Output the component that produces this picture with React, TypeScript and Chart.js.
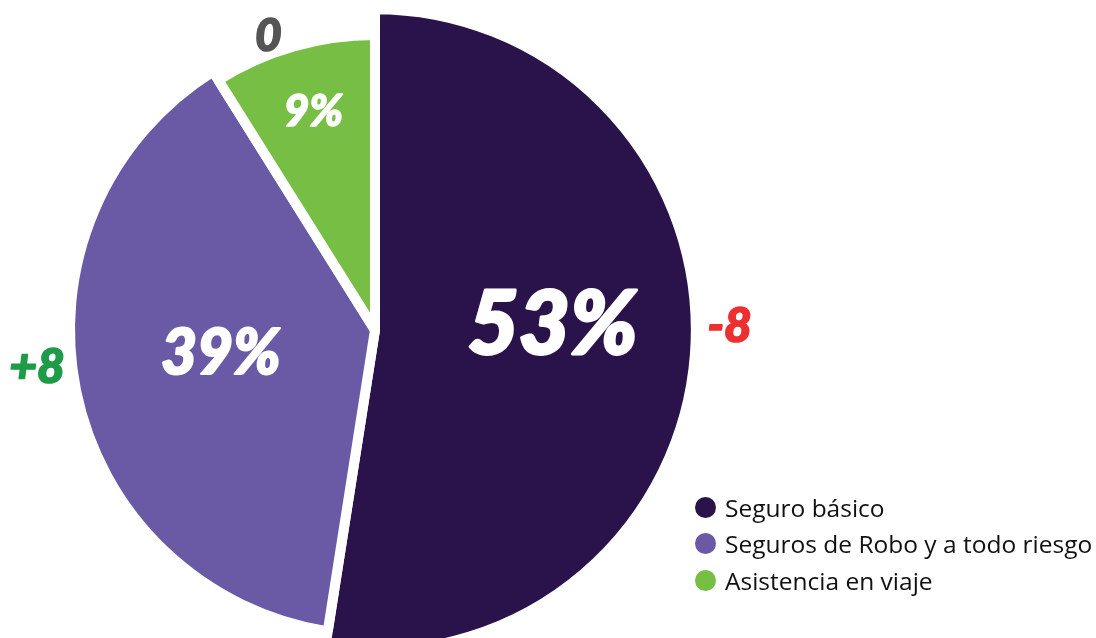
import React, { useEffect, useRef } from "react";
import { Chart, registerables } from "chart.js";

Chart.register(...registerables);

// ---- data ----
const categories = ["Seguro básico", "Seguros de Robo y a todo riesgo", "Asistencia en viaje"];
const shares = [53, 39, 9];
const changes = ["-8", "+8", "0"];

// ---- styles ----
const sliceColors = ["#29134A", "#6A5AA6", "#76BE44"];
const changeColors = ["#EC3030", "#1E9B48", "#555555"];
const BASE_RADIUS = 305;
const BORDER_W = 10;
const radiusScale = [1.052, 1.0, 0.967];
const labelAngleShift = [-6.8, 3.5, 0.4];
const labelRadiusFrac = [0.563, 0.519, 0.788];
const labelFontSize = [88, 62, 44];
const changeAngleShift = [-5.3, 5.5, -3.8];
const changeRadiusFrac = [1.123, 1.133, 1.085];
const changeFontSize = [48, 48, 46];
const LABEL_FONT = "Lato";

const sliceRadiusPlugin = {
  id: "sliceRadius",
  beforeDatasetsDraw(chart: any) {
    const meta = chart.getDatasetMeta(0);
    meta.data.forEach((arc: any, i: number) => {
      arc.outerRadius = BASE_RADIUS * radiusScale[i];
    });
  },
};

const sliceLabelPlugin = {
  id: "sliceLabels",
  afterDatasetsDraw(chart: any) {
    const ctx = chart.ctx;
    const meta = chart.getDatasetMeta(0);
    meta.data.forEach((arc: any, i: number) => {
      const { x, y, startAngle, endAngle, outerRadius } = arc;
      const rVis = outerRadius - BORDER_W / 2;
      const mid = (startAngle + endAngle) / 2;
      const put = (text: string, shift: number, frac: number, size: number, color: string) => {
        const a = mid + (shift * Math.PI) / 180;
        const px = x + Math.cos(a) * rVis * frac;
        const py = y + Math.sin(a) * rVis * frac;
        ctx.save();
        ctx.font = `italic 900 ${size}px ${LABEL_FONT}`;
        ctx.fillStyle = color;
        ctx.strokeStyle = color;
        ctx.lineWidth = Math.max(1.2, size * 0.034);
        ctx.lineJoin = "round";
        ctx.textAlign = "center";
        ctx.textBaseline = "alphabetic";
        ctx.fillText(text, px, py + size * 0.36);
        ctx.strokeText(text, px, py + size * 0.36);
        ctx.restore();
      };
      put(`${shares[i]}%`, labelAngleShift[i], labelRadiusFrac[i], labelFontSize[i], "#FFFFFF");
      put(changes[i], changeAngleShift[i], changeRadiusFrac[i], changeFontSize[i], changeColors[i]);
    });
  },
};

export default function App() {
  const ref = useRef<HTMLCanvasElement | null>(null);

  useEffect(() => {
    if (!ref.current) return;
    const chart = new Chart(ref.current, {
      type: "pie",
      data: {
        labels: categories,
        datasets: [
          {
            data: shares,
            backgroundColor: sliceColors,
            borderColor: "#FFFFFF",
            borderWidth: BORDER_W,
            borderAlign: "center",
          },
        ],
      },
      options: {
        responsive: false,
        animation: false,
        events: [],
        radius: BASE_RADIUS,
        layout: { padding: { left: 0, right: 346, top: 22, bottom: 0 } },
        plugins: {
          legend: { display: false },
          tooltip: { enabled: false },
        },
      } as any,
      plugins: [sliceRadiusPlugin, sliceLabelPlugin],
    });
    return () => chart.destroy();
  }, []);

  return (
    <div style={{ position: "absolute", left: 0, top: 0, width: 1096, height: 638, background: "#fff", overflow: "hidden" }}>
      <canvas ref={ref} width={1096} height={638} style={{ width: 1096, height: 638, display: "block" }} />
      <div
        style={{
          position: "absolute",
          left: 695,
          top: 489,
          fontFamily: "'Open Sans', sans-serif",
          fontSize: 24.5,
          color: "#111111",
        }}
      >
        {categories.map((c, i) => (
          <div key={c} style={{ display: "flex", alignItems: "center", height: 36.5, whiteSpace: "nowrap" }}>
            <span
              style={{
                display: "inline-block",
                width: 21,
                height: 21,
                borderRadius: "50%",
                background: sliceColors[i],
                marginRight: 9,
                flex: "none",
              }}
            />
            <span>{c}</span>
          </div>
        ))}
      </div>
    </div>
  );
}
